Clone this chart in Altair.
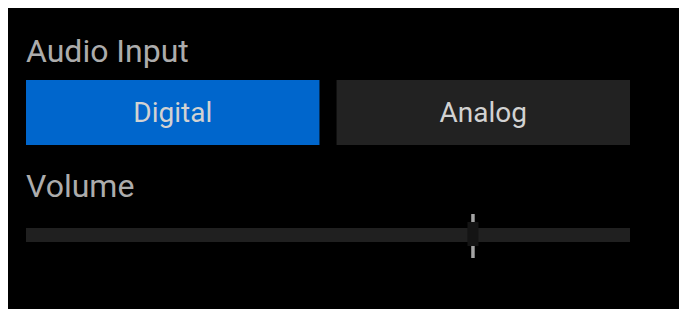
import altair as alt
import pandas as pd

# ---- data ----
section_titles = ["Audio Input", "Volume"]
inputs = ["Digital", "Analog"]
selected_input = "Digital"
volume_min = [0]
volume_max = [100]
volume_value = [74]

# ---- styles ----
BLUE = "#0066CC"
BTN_GREY = "#222222"
TRACK = "#202020"
THUMB_BOX = "#141414"
THUMB_LINE = "#a4a4a4"
LABEL = "#acacac"
BTN_TEXT = "#d2d2d2"
FONT = "Roboto"

btn_df = pd.DataFrame({
    "name": inputs,
    "state": ["on" if n == selected_input else "off" for n in inputs],
})
track_df = pd.DataFrame({"lo": volume_min, "hi": volume_max})
thumb_df = pd.DataFrame({"v": volume_value})

# ---- section titles ----
title1 = alt.Chart(pd.DataFrame({"t": [section_titles[0]]})).mark_text(
    align="left", baseline="alphabetic", font=FONT, fontSize=32, color=LABEL
).encode(x=alt.value(0), y=alt.value(53.5), text="t:N")

title2 = alt.Chart(pd.DataFrame({"t": [section_titles[1]]})).mark_text(
    align="left", baseline="alphabetic", font=FONT, fontSize=32, color=LABEL
).encode(x=alt.value(0), y=alt.value(189), text="t:N")

# ---- buttons ----
bx = alt.X("name:N", sort=inputs,
           scale=alt.Scale(paddingInner=0.055, paddingOuter=0), axis=None)
btn_rect = alt.Chart(btn_df).mark_rect().encode(
    x=bx,
    y=alt.value(72), y2=alt.value(137),
    color=alt.Color("state:N", scale=alt.Scale(domain=["on", "off"], range=[BLUE, BTN_GREY]), legend=None),
)
btn_text = alt.Chart(btn_df).mark_text(
    align="center", baseline="alphabetic", font=FONT, fontSize=28, color=BTN_TEXT
).encode(x=bx, y=alt.value(114), text="name:N")
buttons = alt.layer(btn_rect, btn_text)

# ---- slider ----
sx_scale = alt.Scale(domain=[volume_min[0], volume_max[0]], nice=False, zero=False)
track = alt.Chart(track_df).mark_rect(color=TRACK).encode(
    x=alt.X("lo:Q", scale=sx_scale, axis=None), x2="hi:Q",
    y=alt.value(220), y2=alt.value(234),
)
thumb_line = alt.Chart(thumb_df).mark_rule(color=THUMB_LINE, strokeWidth=3.5).encode(
    x=alt.X("v:Q", scale=sx_scale, axis=None),
    y=alt.value(206), y2=alt.value(250),
)
thumb_box = alt.Chart(thumb_df).mark_rule(color=THUMB_BOX, strokeWidth=11).encode(
    x=alt.X("v:Q", scale=sx_scale, axis=None),
    y=alt.value(214), y2=alt.value(238),
)
slider = alt.layer(track, thumb_line, thumb_box)

chart = alt.layer(title1, title2, buttons, slider).resolve_scale(
    x="independent", color="independent"
).properties(
    width=604, height=301,
    padding={"left": 18, "top": 0, "right": 49, "bottom": 0},
    background="#000000",
).configure_view(strokeWidth=0)

chart.save("out.html", embed_options={"renderer": "svg", "actions": False})
